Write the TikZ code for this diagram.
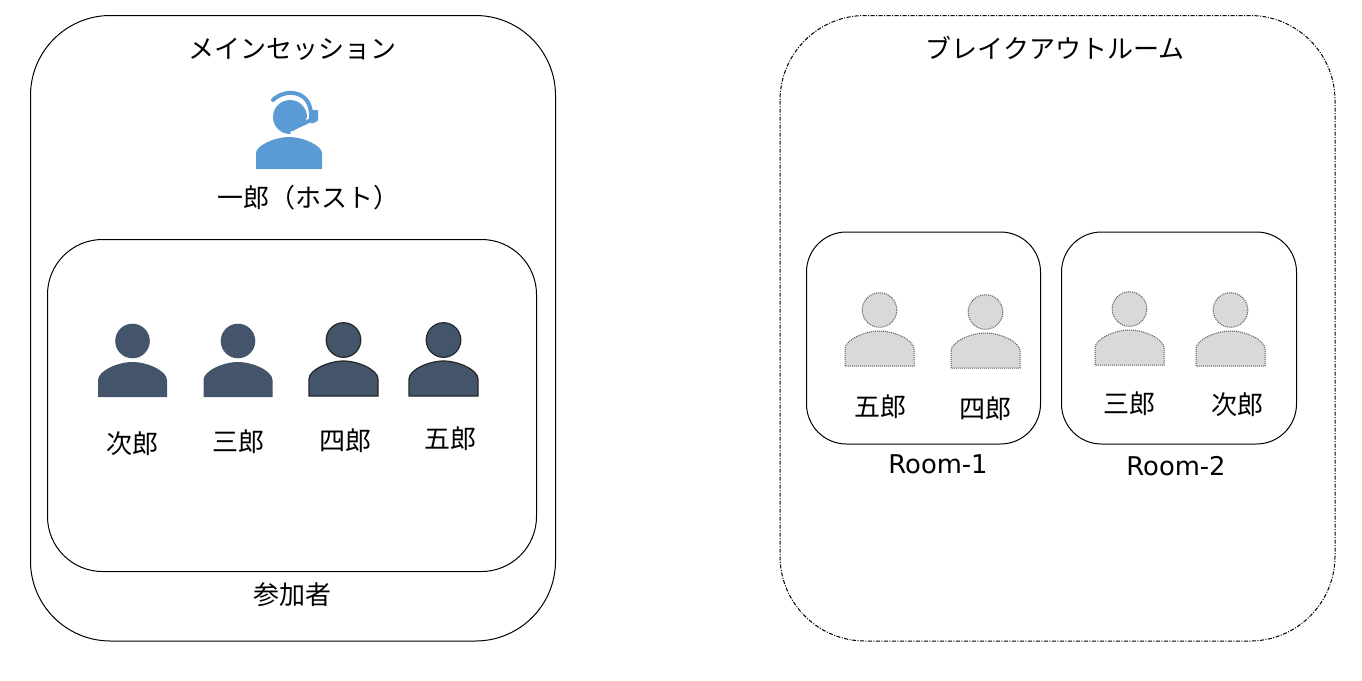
\documentclass[tikz,border=0pt]{standalone}
\usepackage{fontspec}
\setmainfont{Noto Sans CJK JP}
\newfontfamily\latinfont{DejaVu Sans}
\definecolor{hostblue}{HTML}{5B9BD5}
\definecolor{navy}{HTML}{44546A}
\definecolor{ghost}{HTML}{D9D9D9}
\tikzset{
	x=1pt, y=-1pt,
	box/.style={draw=black, line width=1pt, fill=white, rounded corners=#1},
	person/.style={fill=navy},
	outlined/.style={fill=navy, draw=black!85, line width=1.2pt},
	away/.style={fill=ghost, draw=black!65, line width=1pt, densely dotted},
	jptext/.style={font=\fontsize{26}{26}\selectfont, inner sep=0pt},
	roomtext/.style={font=\latinfont\fontsize{25.8}{26}\selectfont, inner sep=0pt},
	pics/user/.style={code={
		\path[#1] (0,0) circle[radius=17.3];
		\path[#1] (-34.5,56) -- (-34.5,39) .. controls (-34.5,30) and (-15,21) .. (0,21)
			.. controls (15,21) and (34.5,30) .. (34.5,39) -- (34.5,56) -- cycle;
	}}
}
\begin{document}
\begin{tikzpicture}
	\useasboundingbox[fill=white] (0,0) rectangle (1362,680);

	% main session
	\draw[box=80] (30.5,15.5) rectangle (555.5,641);
	\draw[box=55] (47.5,239.5) rectangle (536.5,571.5);
	\node[jptext] (mainTitle) at (292,49) {メインセッション};
	\node[jptext] (hostName) at (308,198) {一郎（ホスト）};
	\node[jptext] (members) at (292,595) {参加者};

	% host
	\fill[hostblue] (290,117) circle[radius=17];
	\fill[hostblue] (256,169) -- (256,153) .. controls (256,146) and (274,137) .. (289,137)
		.. controls (304,137) and (322,146) .. (322,153) -- (322,169) -- cycle;
	\fill[white] (291,131) -- (291,137) -- (300,135) -- cycle;
	\draw[white, line width=3.5pt] (310,109) .. controls (311,120) and (303,129) .. (291,134);
	\draw[hostblue, line width=4pt, line cap=round] (273,100) .. controls (284,89) and (309,89) .. (311,113) -- (311,120) -- (296,127);
	\fill[hostblue, rounded corners=1pt] (311,110) -- (318,110) -- (318,121) -- (311,124) -- cycle;

	\pic at (132.5,341) {user=person};
	\pic at (238,341) {user=person};
	\pic at (343.5,340) {user=outlined};
	\pic at (443.5,340) {user=outlined};
	\node[jptext] (jiroMain) at (132,444) {次郎};
	\node[jptext] (saburoMain) at (238,442) {三郎};
	\node[jptext] (shiroMain) at (345,441) {四郎};
	\node[jptext] (goroMain) at (450,439) {五郎};

	% breakout rooms
	\draw[box=85, line width=1pt, dash pattern=on 4pt off 1.5pt on 1pt off 1.5pt] (780,15.5) rectangle (1335,641);
	\draw[box=40] (806.5,232) rectangle (1040.5,444);
	\draw[box=40] (1061.5,232) rectangle (1296.5,444);
	\node[jptext] (breakTitle) at (1055,48) {ブレイクアウトルーム};
	\node[roomtext] (roomOne) at (938,464) {Room-1};
	\node[roomtext] (roomTwo) at (1176,466) {Room-2};

	\pic at (879.5,310) {user=away};
	\pic at (985.5,312) {user=away};
	\pic at (1129.5,309) {user=away};
	\pic at (1230.5,310) {user=away};
	\node[jptext] (goroRoom) at (880,407) {五郎};
	\node[jptext] (shiroRoom) at (985,409) {四郎};
	\node[jptext] (saburoRoom) at (1129,404) {三郎};
	\node[jptext] (jiroRoom) at (1237,405) {次郎};
\end{tikzpicture}
\end{document}
